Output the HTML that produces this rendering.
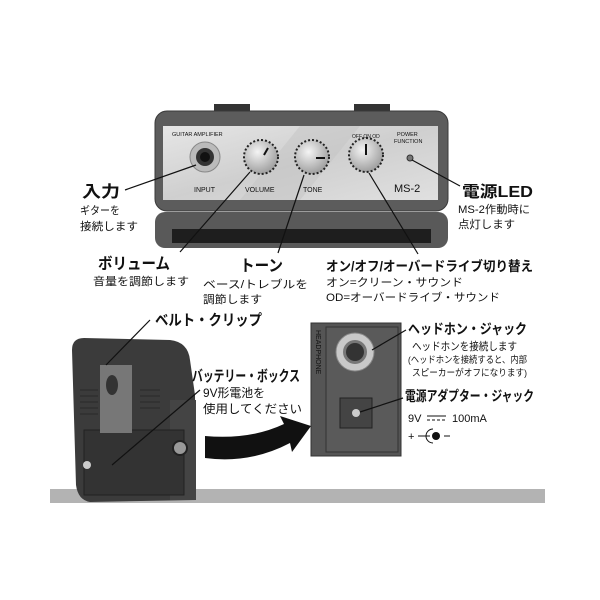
<!DOCTYPE html>
<html><head><meta charset="utf-8"><style>
html,body{margin:0;padding:0;background:#fff;width:600px;height:600px;overflow:hidden}
svg{display:block}
text{font-family:"Liberation Sans","Noto Sans CJK JP",sans-serif;fill:#111}
.b{font-weight:bold}
</style></head><body>
<svg width="600" height="600" viewBox="0 0 600 600" xmlns="http://www.w3.org/2000/svg">
<defs>
<radialGradient id="kn" cx="40%" cy="35%" r="70%"><stop offset="0" stop-color="#f4f4f4"/><stop offset="1" stop-color="#999"/></radialGradient>
<linearGradient id="fp" x1="0" y1="0" x2="1" y2="1"><stop offset="0" stop-color="#e6e6e6"/><stop offset="0.5" stop-color="#cfcfcf"/><stop offset="1" stop-color="#e0e0e0"/></linearGradient>
</defs>
<rect x="214" y="104" width="36" height="10" fill="#333"/>
<rect x="354" y="104" width="36" height="10" fill="#333"/>
<rect x="155" y="212" width="293" height="36" rx="10" fill="#595959"/>
<rect x="172" y="229" width="259" height="14" fill="#1e1e1e"/>
<rect x="155" y="111" width="293" height="100" rx="12" fill="#5c5c5c" stroke="#3a3a3a"/>
<rect x="163" y="126" width="275" height="74" fill="url(#fp)"/>
<polygon points="240,200 300,126 360,126 300,200" fill="#c4c4c4" opacity="0.5"/>
<text x="172" y="136" font-size="5.5" fill="#333">GUITAR AMPLIFIER</text>
<text x="397" y="136" font-size="5.5" fill="#333">POWER</text>
<text x="394" y="143" font-size="5.5" fill="#333">FUNCTION</text>
<text x="194" y="192" font-size="7" fill="#333">INPUT</text>
<text x="245" y="192" font-size="7" fill="#333">VOLUME</text>
<text x="303" y="192" font-size="7" fill="#333">TONE</text>
<text x="394" y="192" font-size="11" fill="#222">MS-2</text>
<circle cx="205" cy="157" r="15" fill="#bbb" stroke="#888"/>
<circle cx="205" cy="157" r="9" fill="#333"/>
<circle cx="205" cy="157" r="5" fill="#111"/>
<g stroke="#222" stroke-width="2" stroke-dasharray="2 2"><circle cx="261" cy="157" r="17" fill="url(#kn)"/><circle cx="312" cy="157" r="17" fill="url(#kn)"/><circle cx="366" cy="155" r="17" fill="url(#kn)"/></g>
<line x1="264" y1="155" x2="268" y2="148" stroke="#111" stroke-width="2"/>
<line x1="316" y1="158" x2="325" y2="158" stroke="#111" stroke-width="2"/>
<line x1="366" y1="155" x2="366" y2="144" stroke="#111" stroke-width="2"/>
<text x="352" y="138" font-size="5" fill="#333">OFF ON OD</text>
<circle cx="410" cy="158" r="3" fill="#777" stroke="#333"/>
<g stroke="#111" stroke-width="1.2">
<line x1="125" y1="190" x2="196" y2="165"/>
<line x1="180" y1="252" x2="250" y2="172"/>
<line x1="278" y1="253" x2="304" y2="175"/>
<line x1="418" y1="254" x2="369" y2="173"/>
<line x1="412" y1="160" x2="460" y2="186"/>
</g>
<text class="b" x="82" y="197" font-size="16" textLength="38" lengthAdjust="spacingAndGlyphs">入力</text>
<text x="80" y="214" font-size="11" textLength="40" lengthAdjust="spacingAndGlyphs">ギターを</text>
<text x="80" y="230" font-size="11" textLength="58" lengthAdjust="spacingAndGlyphs">接続します</text>
<text class="b" x="98" y="269" font-size="16" textLength="72" lengthAdjust="spacingAndGlyphs">ボリューム</text>
<text x="93" y="285" font-size="11" textLength="96" lengthAdjust="spacingAndGlyphs">音量を調節します</text>
<text class="b" x="240" y="271" font-size="16" textLength="43" lengthAdjust="spacingAndGlyphs">トーン</text>
<text x="203" y="288" font-size="11" textLength="105" lengthAdjust="spacingAndGlyphs">ベース/トレブルを</text>
<text x="203" y="303" font-size="11" textLength="59" lengthAdjust="spacingAndGlyphs">調節します</text>
<text class="b" x="326" y="271" font-size="13.5" textLength="207" lengthAdjust="spacingAndGlyphs">オン/オフ/オーバードライブ切り替え</text>
<text x="326" y="286" font-size="11" textLength="137" lengthAdjust="spacingAndGlyphs">オン=クリーン・サウンド</text>
<text x="326" y="301" font-size="11" textLength="174" lengthAdjust="spacingAndGlyphs">OD=オーバードライブ・サウンド</text>
<text class="b" x="462" y="197" font-size="16" textLength="71" lengthAdjust="spacingAndGlyphs">電源LED</text>
<text x="458" y="213" font-size="11" textLength="72" lengthAdjust="spacingAndGlyphs">MS-2作動時に</text>
<text x="458" y="228" font-size="11" textLength="57" lengthAdjust="spacingAndGlyphs">点灯します</text>
<rect x="50" y="489" width="495" height="14" fill="#b3b3b3"/>
<path d="M72 350 Q72 338 84 338 L170 340 Q188 342 190 360 L195 395 L196 500 L90 502 Q78 500 76 485 Z" fill="#3b3b3b"/>
<rect x="170" y="400" width="26" height="100" fill="#444"/>
<rect x="84" y="430" width="100" height="65" fill="#333" stroke="#222"/>
<rect x="100" y="365" width="32" height="68" fill="#777"/>
<ellipse cx="112" cy="385" rx="6" ry="10" fill="#333"/>
<g stroke="#2a2a2a" stroke-width="1"><line x1="80" y1="390" x2="98" y2="390"/><line x1="80" y1="396" x2="98" y2="396"/><line x1="80" y1="402" x2="98" y2="402"/><line x1="80" y1="408" x2="98" y2="408"/><line x1="80" y1="414" x2="98" y2="414"/><line x1="140" y1="390" x2="160" y2="390"/><line x1="140" y1="396" x2="160" y2="396"/><line x1="140" y1="402" x2="160" y2="402"/><line x1="140" y1="408" x2="160" y2="408"/></g>
<circle cx="180" cy="448" r="7" fill="#999" stroke="#222" stroke-width="2"/>
<circle cx="87" cy="465" r="4" fill="#ccc"/>
<path d="M205 436 Q250 440 284 424 L280 416 L311 426 L292 452 L290 443 Q250 464 205 458 Z" fill="#111"/>
<rect x="311" y="323" width="90" height="133" fill="#555" stroke="#333"/>
<rect x="326" y="327" width="72" height="125" fill="#5a5a5a" stroke="#333"/>
<text x="0" y="0" font-size="7" fill="#ddd" transform="translate(316,330) rotate(90)">HEADPHONE</text>
<circle cx="355" cy="352" r="19" fill="#c9c9c9" stroke="#888"/>
<circle cx="355" cy="352" r="12" fill="#777"/>
<circle cx="355" cy="352" r="9" fill="#333"/>
<rect x="340" y="398" width="32" height="30" fill="#444" stroke="#222"/>
<circle cx="356" cy="413" r="4" fill="#ccc"/>
<g stroke="#111" stroke-width="1.2">
<line x1="106" y1="365" x2="150" y2="320"/>
<line x1="112" y1="465" x2="200" y2="390"/>
<line x1="372" y1="350" x2="406" y2="330"/>
<line x1="360" y1="412" x2="403" y2="398"/>
</g>
<text class="b" x="155" y="325" font-size="15" textLength="107" lengthAdjust="spacingAndGlyphs">ベルト・クリップ</text>
<text class="b" x="192" y="381" font-size="15" textLength="108" lengthAdjust="spacingAndGlyphs">バッテリー・ボックス</text>
<text x="203" y="397" font-size="12" textLength="62" lengthAdjust="spacingAndGlyphs">9V形電池を</text>
<text x="203" y="413" font-size="12" textLength="99" lengthAdjust="spacingAndGlyphs">使用してください</text>
<text class="b" x="408" y="334" font-size="14" textLength="119" lengthAdjust="spacingAndGlyphs">ヘッドホン・ジャック</text>
<text x="412" y="350" font-size="11" textLength="105" lengthAdjust="spacingAndGlyphs">ヘッドホンを接続します</text>
<text x="408" y="363" font-size="9.5" textLength="119" lengthAdjust="spacingAndGlyphs">(ヘッドホンを接続すると、内部</text>
<text x="412" y="376" font-size="9.5" textLength="115" lengthAdjust="spacingAndGlyphs">スピーカーがオフになります)</text>
<text class="b" x="405" y="401" font-size="14" textLength="129" lengthAdjust="spacingAndGlyphs">電源アダプター・ジャック</text>
<text x="408" y="422" font-size="11">9V</text>
<line x1="427" y1="416" x2="446" y2="416" stroke="#111"/>
<line x1="427" y1="420" x2="446" y2="420" stroke="#111" stroke-dasharray="3 2"/>
<text x="452" y="422" font-size="11">100mA</text>
<text x="408" y="440" font-size="11">+</text>
<line x1="418" y1="436" x2="430" y2="436" stroke="#111"/>
<circle cx="436" cy="436" r="4" fill="#111"/>
<path d="M433 429 A7 7 0 0 0 433 443" fill="none" stroke="#111"/>
<line x1="444" y1="436" x2="450" y2="436" stroke="#111"/>
</svg>
</body></html>
